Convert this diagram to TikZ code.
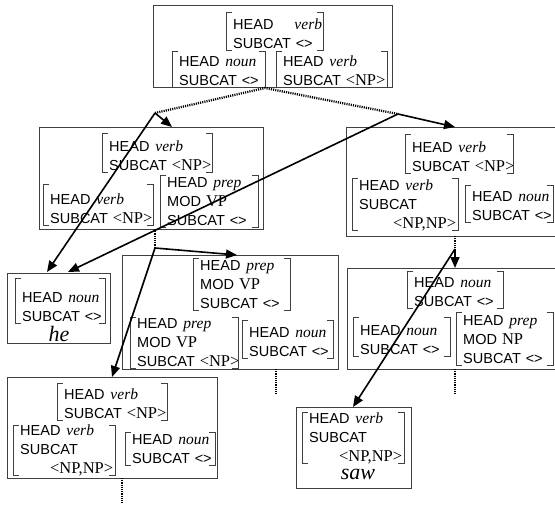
\documentclass[tikz,border=0pt]{standalone}
\usepackage{fontspec}
\setmainfont{Liberation Sans}
\newfontfamily\tms{Liberation Serif}
\usetikzlibrary{arrows.meta}
\definecolor{boxgray}{HTML}{404040}
\newcommand\sit[1]{{\tms\itshape\fontsize{15.5}{19}\selectfont #1}}
\newcommand\srm[1]{{\tms\fontsize{16.5}{19}\selectfont #1}}
\newcommand\bigword[1]{{\tms\itshape\fontsize{22}{24}\selectfont #1}}
\newcommand\hd[1]{HEAD\nobreak\hspace{6pt}\sit{#1}}
\newcommand\md[1]{MOD\nobreak\hspace{5pt}\srm{#1}}
\newcommand\avm[7]{%
  \pgfmathsetmacro\avmw{#3-#2-9}%
  \pgfmathsetmacro\avmy{#5-1.5-(#6-1)*19}%
  \node[avmtext, text width=\avmw pt] (#1) at ({#2+7},\avmy) {#7};
  \draw[brk] ({#2+6},#4) -- (#2,#4) -- (#2,#5) -- ({#2+6},#5);
  \draw[brk] ({#3-6},#4) -- (#3,#4) -- (#3,#5) -- ({#3-6},#5);}
\begin{document}
\begin{tikzpicture}[x=1pt,y=-1pt,
  box/.style={draw=boxgray, line width=0.8pt, inner sep=0pt, anchor=north west},
  avmtext/.style={anchor=south west, inner sep=0pt, text depth=0pt, align=left, font=\fontsize{14.5}{19}\selectfont},
  brk/.style={draw=boxgray, line width=0.8pt},
  dots/.style={line width=2.3pt, dash pattern=on 1.1pt off 1.1pt},
  arr/.style={line width=1.6pt, -{Triangle[length=11pt,width=9pt]}}]
\useasboundingbox (0,0) rectangle (555,506);
\clip (0,0) rectangle (555,506);
% boxes
\node[box, minimum width=239pt, minimum height=82pt] (A) at (153,5) {};
\node[box, minimum width=224pt, minimum height=102pt] (B) at (39,127) {};
\node[box, minimum width=214pt, minimum height=109pt] (C) at (346,127) {};
\node[box, minimum width=103pt, minimum height=70pt] (D) at (7,273) {};
\node[box, minimum width=216pt, minimum height=114pt] (E) at (122,255) {};
\node[box, minimum width=213pt, minimum height=101pt] (F) at (347,268) {};
\node[box, minimum width=210pt, minimum height=101pt] (G) at (7,377) {};
\node[box, minimum width=115pt, minimum height=81pt] (H) at (296,407) {};
% AVMs
\avm{A1}{226}{323}{12}{50}{2}{HEAD\nobreak\hspace{21pt}\sit{verb}\\SUBCAT~<>}
\avm{A2}{172}{265}{51}{87}{2}{\hd{noun}\\SUBCAT~<>}
\avm{A3}{276}{387}{51}{87}{2}{\hd{verb}\\SUBCAT~\srm{<NP>}}
\avm{B1}{102}{212}{133}{172}{2}{\hd{verb}\\SUBCAT~\srm{<NP>}}
\avm{B2}{43}{153}{184}{225}{2}{\hd{verb}\\SUBCAT~\srm{<NP>}}
\avm{B3}{160}{258}{175}{227}{3}{\hd{prep}\\\md{VP}\\SUBCAT~<>}
\avm{C1}{405}{513}{134}{173}{2}{\hd{verb}\\SUBCAT~\srm{<NP>}}
\avm{C2}{352}{458}{178}{230}{3}{\hd{verb}\\SUBCAT\\\mbox{}\hfill\srm{<NP,NP>}}
\avm{C3}{465}{553}{185}{222}{2}{\hd{noun}\\SUBCAT~<>}
\avm{D1}{15}{105}{278}{323}{2}{\hd{noun}\\SUBCAT~<>}
\avm{E1}{193}{290}{258}{310}{3}{\hd{prep}\\\md{VP}\\SUBCAT~<>}
\avm{E2}{130}{238}{317}{368}{3}{\hd{prep}\\\md{VP}\\SUBCAT~\srm{<NP>}}
\avm{E3}{242}{333}{320}{358}{2}{\hd{noun}\\SUBCAT~<>}
\avm{F1}{407}{503}{271}{308}{2}{\hd{noun}\\SUBCAT~<>}
\avm{F2}{353}{450}{317}{356}{2}{\hd{noun}\\SUBCAT~<>}
\avm{F3}{456}{553}{312}{365}{3}{\hd{prep}\\\md{NP}\\SUBCAT~<>}
\avm{G1}{57}{167}{383}{420}{2}{\hd{verb}\\SUBCAT~\srm{<NP>}}
\avm{G2}{13}{115}{425}{475}{3}{\hd{verb}\\SUBCAT\\\mbox{}\hfill\srm{<NP,NP>}}
\avm{G3}{125}{215}{432}{465}{2}{\hd{noun}\\SUBCAT~<>}
\avm{H1}{302}{404}{412}{463}{3}{\hd{verb}\\SUBCAT\\\mbox{}\hfill\srm{<NP,NP>}}
% words
\node[anchor=base, inner sep=0pt] (he) at (59,341) {\bigword{he}};
\node[anchor=base, inner sep=0pt] (saw) at (358,479) {\bigword{saw}};
% junction and target points
\coordinate (a0) at (265,88);
\coordinate (p1) at (155,113);
\coordinate (p2) at (398,114);
\coordinate (b0) at (155,229);
\coordinate (p3) at (155,248);
\coordinate (c0) at (455,236);
\coordinate (p4) at (455,249);
\coordinate (tB) at (172,127);
\coordinate (tD1) at (47,272);
\coordinate (tC) at (455,127);
\coordinate (tD2) at (68,272);
\coordinate (tE) at (237,255);
\coordinate (tG) at (112,377);
\coordinate (tF) at (455,268);
\coordinate (tH) at (353,407);
\coordinate (e0) at (276,369);
\coordinate (e1) at (276,395);
\coordinate (f0) at (455,369);
\coordinate (f1) at (455,395);
\coordinate (g0) at (122,478);
\coordinate (g1) at (122,503);
% dotted links
\draw[dots] (p1) -- (a0) -- (p2);
\draw[dots] (b0) -- (p3);
\draw[dots] (c0) -- (p4);
\draw[dots] (e0) -- (e1);
\draw[dots] (f0) -- (f1);
\draw[dots] (g0) -- (g1);
% arrows
\draw[arr] (p1) -- (tB);
\draw[arr] (p1) -- (tD1);
\draw[arr] (p2) -- (tC);
\draw[arr] (p2) -- (tD2);
\draw[arr] (p3) -- (tE);
\draw[arr] (p3) -- (tG);
\draw[arr] (p4) -- (tF);
\draw[arr] (p4) -- (tH);
\end{tikzpicture}
\end{document}
